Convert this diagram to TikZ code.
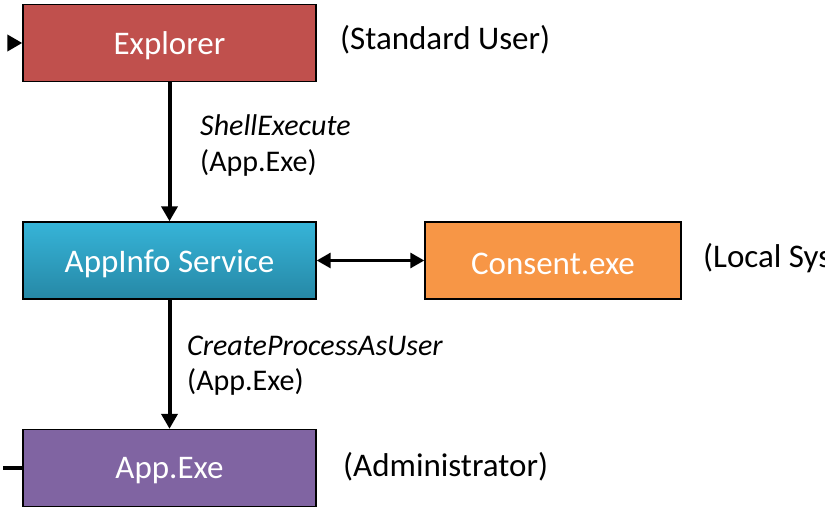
\documentclass[tikz,border=0pt]{standalone}
\usepackage{fontspec}
\setmainfont{Carlito}
\usetikzlibrary{arrows.meta}
\definecolor{exred}{RGB}{192,80,77}
\definecolor{cntor}{RGB}{247,150,70}
\definecolor{appur}{RGB}{128,100,162}
\definecolor{aitop}{RGB}{54,180,216}
\definecolor{aibot}{RGB}{38,136,166}
\newcommand{\boxtxt}[1]{\raisebox{-3pt}[\height][\depth]{#1}}
\tikzset{
  box/.style={draw=black, line width=1.4pt, minimum height=77pt, inner sep=0pt,
    text=white, font=\fontsize{33}{38}\selectfont},
  lbl/.style={anchor=base west, inner sep=0pt, font=\fontsize{30}{36}\selectfont},
  side/.style={anchor=base west, inner sep=0pt, font=\fontsize{33}{38}\selectfont},
  flow/.style={line width=4pt, -{Triangle[width=16pt,length=15pt]}},
  both/.style={line width=3pt, {Triangle[width=15pt,length=14pt]}-{Triangle[width=15pt,length=14pt]}},
}
\begin{document}
\begin{tikzpicture}[x=1pt,y=-1pt]
\useasboundingbox (0,0) rectangle (825,510);
\node[box, fill=exred, minimum width=293pt] (explorer) at (169.5,43) {\boxtxt{Explorer}};
\node[box, top color=aitop, bottom color=aibot, minimum width=293pt] (appinfo) at (169.5,260.5) {\boxtxt{AppInfo Service}};
\node[box, fill=cntor, minimum width=256pt] (consent) at (553,260.5) {\boxtxt{Consent.exe}};
\node[box, fill=appur, minimum width=293pt] (appexe) at (169.5,468) {\boxtxt{App.Exe}};

\node[side] (std) at (340,50) {(Standard User)};
\node[side] (locsys) at (703,268) {(Local System)};
\node[side] (admin) at (343,477) {(Administrator)};

\node[lbl] (l1a) at (200,136) {\itshape ShellExecute};
\node[lbl] (l1b) at (200,172) {(App.Exe)};
\node[lbl] (l2a) at (187,356) {\itshape CreateProcessAsUser};
\node[lbl] (l2b) at (187,391) {(App.Exe)};

\coordinate (inL) at (8,43);
\coordinate (outL) at (3,468);
\draw[flow] (inL) -- (explorer.west);
\draw[line width=4pt] (outL) -- (appexe.west);
\draw[flow] (explorer.south) -- (appinfo.north);
\draw[flow] (appinfo.south) -- (appexe.north);
\draw[both] (appinfo.east) -- (consent.west);
\end{tikzpicture}
\end{document}
